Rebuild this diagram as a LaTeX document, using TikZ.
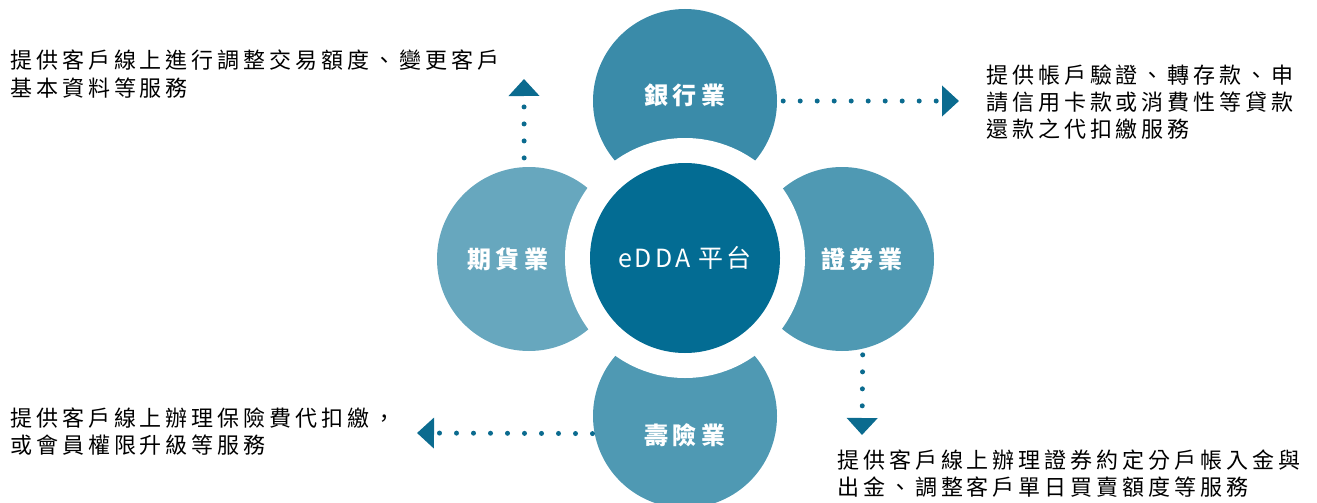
\documentclass[tikz,border=0pt]{standalone}
\usepackage{fontspec}
\usepackage{tikz}
\usetikzlibrary{arrows.meta}
\setmainfont{Noto Sans CJK TC}
\newfontfamily\cjk[LetterSpace=18]{Noto Sans CJK TC}
\newfontfamily\cjkmid[LetterSpace=12]{Noto Sans CJK TC}
\definecolor{bankblue}{HTML}{3A8BA9}
\definecolor{futblue}{HTML}{67A7BE}
\definecolor{secblue}{HTML}{4F99B3}
\definecolor{centerblue}{HTML}{036C93}
\definecolor{arrowblue}{HTML}{0B6B8F}

\begin{document}
\begin{tikzpicture}[x=1pt, y=-1pt,
    petal/.style={circle, minimum size=184pt, inner sep=0pt},
    petallabel/.style={text=white, inner sep=0pt, font=\cjk\bfseries\fontsize{24}{28}\selectfont},
    desc/.style={align=left, inner sep=0pt, anchor=base west, font=\cjk\fontsize{22}{27}\selectfont},
    dotarrow/.style={arrowblue, line width=5pt, line cap=round, dash pattern=on 0pt off 17pt,
      -{Triangle[width=30pt, length=17pt]}}]
  \useasboundingbox (0,0) rectangle (1317,503);

  % Outer circles
  \node[petal, fill=bankblue] (bank) at (685,101) {};
  \node[petal, fill=futblue] (fut) at (529,259) {};
  \node[petal, fill=secblue] (sec) at (842,259) {};
  \node[petal, fill=secblue] (life) at (685,416) {};

  % White ring and centre
  \node[circle, fill=white, minimum size=240pt, inner sep=0pt] (ring) at (685,258) {};
  \node[circle, fill=centerblue, minimum size=190pt, inner sep=0pt, text=white,
    font=\cjkmid\fontsize{25}{30}\selectfont] (edda) at (ring) {eDDA 平台};

  % Circle labels
  \node[petallabel, yshift=6pt] (banklabel) at (bank) {銀行業};
  \node[petallabel, xshift=-21pt] (futlabel) at (fut) {期貨業};
  \node[petallabel, xshift=20pt] (seclabel) at (sec) {證券業};
  \node[petallabel, yshift=-19pt] (lifelabel) at (life) {壽險業};

  % Descriptions (anchored at the last line)
  \node[desc, font=\cjk\fontsize{22}{28}\selectfont] (futtext) at (10,96) {提供客戶線上進行調整交易額度、變更客戶\\基本資料等服務};
  \node[desc] (banktext) at (986,137) {提供帳戶驗證、轉存款、申\\請信用卡款或消費性等貸款\\還款之代扣繳服務};
  \node[desc] (lifetext) at (10,453) {提供客戶線上辦理保險費代扣繳，\\或會員權限升級等服務};
  \node[desc] (sectext) at (837,495) {提供客戶線上辦理證券約定分戶帳入金與\\出金、調整客戶單日買賣額度等服務};

  % Dotted arrows
  \coordinate (futend) at (524,79);
  \coordinate (bankend) at (959,101);
  \coordinate (secend) at (862,435);
  \coordinate (lifeend) at (417,433);
  \draw[dotarrow, shorten <=9pt] (fut.93) -- (futend);
  \draw[dotarrow, shorten <=6pt] (bank.east) -- (bankend);
  \draw[dotarrow, shorten <=6pt] (sec.-77) -- (secend);
  \draw[dotarrow, shorten <=2pt] (life.191) -- (lifeend);
\end{tikzpicture}
\end{document}
